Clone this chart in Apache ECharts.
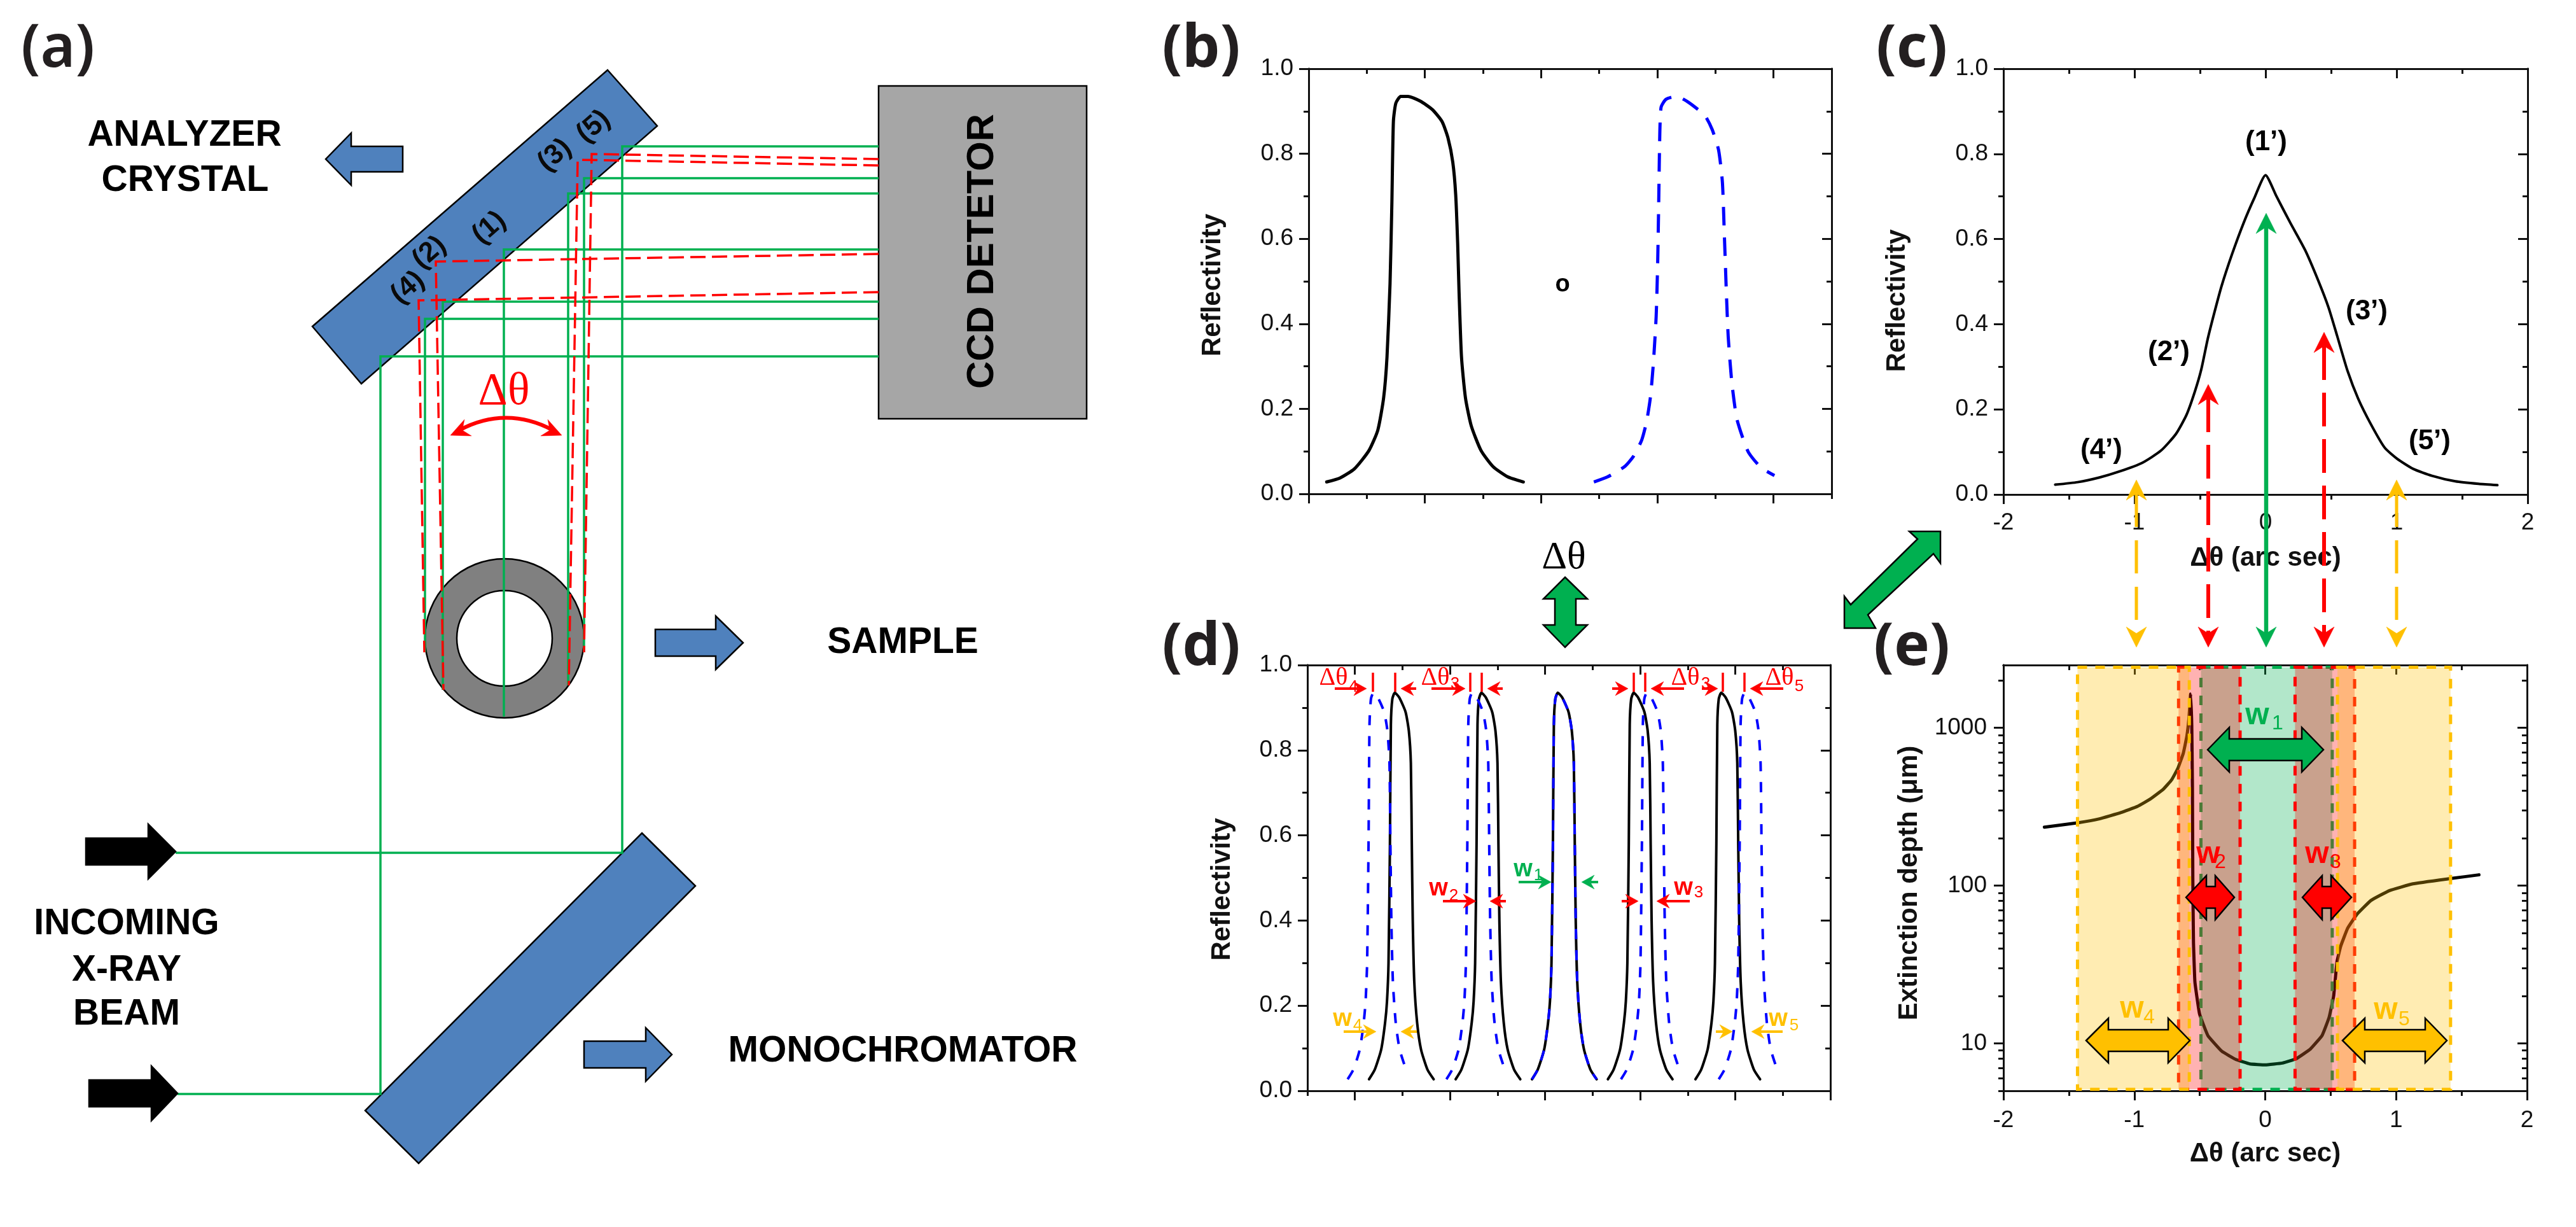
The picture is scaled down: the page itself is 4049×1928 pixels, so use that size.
<!DOCTYPE html>
<html><head><meta charset="utf-8">
<style>html,body{margin:0;padding:0;background:#fff}#c{width:4049px;height:1928px}</style>
<script src="https://cdn.jsdelivr.net/npm/echarts@6/dist/echarts.min.js"></script>
</head><body><div id="c"></div>
<script>
// ---------- panel (b) ----------
const bBlackX=[.155,.268,.394,.519,.595,.645,.674,.70,.716,.729,.75,.792,.854,.959,1.064,1.147,1.198,1.24,1.265,1.282,1.294,1.315,1.349,1.399,1.483,1.587,1.713,1.847];
const bBlackY=[.028,.037,.059,.102,.15,.226,.322,.494,.685,.876,.919,.935,.935,.924,.904,.876,.838,.78,.704,.589,.475,.322,.226,.16,.102,.064,.04,.028];
const bBlueX=[2.454,2.572,2.718,2.794,2.865,2.907,2.94,2.965,2.99,3.003,3.012,3.02,3.032,3.074,3.166,3.263,3.409,3.472,3.527,3.56,3.577,3.594,3.61,3.64,3.682,3.736,3.786,3.891,4.008];
const bBlueY=[.028,.04,.064,.088,.126,.169,.226,.303,.417,.542,.685,.828,.909,.928,.935,.922,.89,.857,.809,.733,.608,.475,.37,.265,.179,.131,.097,.062,.043];
// ---------- panel (c) ----------
const cX=[-1.605,-1.434,-1.267,-1.105,-.943,-.798,-.684,-.603,-.539,-.49,-.442,-.393,-.336,-.256,-.167,-.086,0,.084,.189,.302,.4,.481,.545,.626,.707,.804,.909,1.004,1.128,1.27,1.448,1.626,1.769];
const cY=[.023,.029,.04,.055,.074,.103,.142,.187,.242,.294,.364,.424,.489,.564,.638,.696,.75,.70,.638,.574,.504,.439,.374,.29,.225,.165,.11,.084,.06,.044,.031,.025,.022];
// ---------- panel (d) ----------
const dY=[.027,.05,.097,.16,.21,.3,.58,.86,.92,.935,.924,.89,.845,.77,.58,.4,.256,.16,.097,.05,.027];
const dBlack1X=[.148,.209,.276,.317,.337,.353,.368,.378,.393,.419,.465,.532,.567,.588,.598,.608,.624,.654,.695,.762,.828];
const dBlack2X=[1.059,1.12,1.187,1.228,1.248,1.264,1.279,1.289,1.304,1.33,1.376,1.443,1.478,1.499,1.509,1.519,1.535,1.565,1.606,1.673,1.739];
const dBlack3X=[1.862,1.923,1.99,2.031,2.051,2.067,2.082,2.092,2.107,2.133,2.179,2.246,2.281,2.302,2.312,2.322,2.338,2.368,2.409,2.476,2.542];
const dBlack4X=[2.66,2.721,2.788,2.829,2.849,2.865,2.88,2.89,2.905,2.931,2.977,3.044,3.079,3.1,3.11,3.12,3.136,3.166,3.207,3.274,3.34];
const dBlack5X=[3.581,3.642,3.709,3.75,3.77,3.786,3.801,3.811,3.826,3.852,3.898,3.965,4.0,4.021,4.031,4.041,4.057,4.087,4.128,4.195,4.261];
const dBlue1X=[-.077,-.016,.051,.092,.112,.128,.143,.153,.168,.194,.24,.307,.342,.363,.373,.383,.399,.429,.47,.537];
const dBlue2X=[.962,1.023,1.09,1.131,1.151,1.167,1.182,1.192,1.207,1.233,1.279,1.346,1.381,1.402,1.412,1.422,1.438,1.468,1.509,1.576];
const dBlue3X=[1.862,1.923,1.99,2.031,2.051,2.067,2.082,2.092,2.107,2.133,2.179,2.246,2.281,2.302,2.312,2.322,2.338,2.368,2.409,2.476,2.542];
const dBlue4X=[2.798,2.859,2.926,2.967,2.987,3.003,3.018,3.028,3.043,3.069,3.115,3.182,3.217,3.238,3.248,3.258,3.274,3.304,3.345,3.412];
const dBlue5X=[3.826,3.887,3.954,3.995,4.015,4.031,4.046,4.056,4.071,4.097,4.143,4.21,4.245,4.266,4.276,4.286,4.302,4.332,4.373,4.44];
// ---------- panel (e) ----------
const eX=[-1.687,-1.428,-1.266,-1.104,-.975,-.877,-.78,-.715,-.667,-.626,-.599,-.582,-.57,-.561,-.556,-.553,-.548,-.537,-.502,-.438,-.331,-.224,-.117,0,.132,.238,.345,.434,.488,.523,.548,.577,.63,.701,.808,.95,1.128,1.413,1.633];
const eY=[234.6,250.4,265,290,318,354,407,468,554,689,882,1167,1640,1030,420,111,43.8,24.5,15.4,11.2,8.9,7.9,7.4,7.3,7.5,8,9.2,11.2,14.6,20,32.8,41.3,53.7,65.8,80.5,93,102.6,110.7,117];
const bandsYellow=[[-1.434,-.58],[.552,1.416]];
const bandsRed=[[-.662,-.192],[.228,.683]];
const bandsGreen=[[-.491,.512]];
const eBandY=[5.1,2420];
// ---------- tick lists ----------
const reflMajor=[0,.2,.4,.6,.8,1];
const reflMinor=[.1,.3,.5,.7,.9];
const bMajorX=[0,1,2,3,4];
const bMinorX=[.5,1.5,2.5,3.5,4.5];
const dMajorX=[0,1,2,3,4,5];
const dMinorX=[-.5,.5,1.5,2.5,3.5,4.5];
const arcMajor=[-2,-1,0,1,2];
const arcMinor=[-1.5,-.5,.5,1.5];
const depthMajor=[10,100,1000];
const depthMinor=[5,6,7,8,9,20,30,40,50,60,70,80,90,200,300,400,500,600,700,800,900,2000];

const SANS='"Liberation Sans"',SERIF='"Liberation Serif"';
const GREEN='#00b050',RED='#ff0000',YEL='#ffc000',BLUE='#4f81bd',INK='#000000',LINEBLUE='#0000ff';

const grid=[],xAxis=[],yAxis=[];
function addAxes(list,g,type,posA,posB,min,max,major,minor,o){
  const mk=(pos,vals,opt)=>{
    const a={gridIndex:g,type:type,position:pos,min:min,max:max,
      axisLine:{show:true,onZero:false,lineStyle:{color:'#111',width:3}},
      splitLine:{show:false},
      axisTick:{show:true,customValues:vals,length:opt.len,inside:!!opt.inside,lineStyle:{color:'#111',width:3}},
      axisLabel:opt.labels?{show:true,customValues:vals,fontFamily:SANS,fontSize:37,color:'#111',margin:o.margin,formatter:o.fmt,showMinLabel:true,showMaxLabel:true}:{show:false}};
    if(opt.labels&&o.name){a.name=o.name;a.nameLocation='middle';a.nameGap=o.nameGap;a.nameTextStyle={fontFamily:SANS,fontWeight:'bold',fontSize:42,color:'#111',padding:o.namePad||0};}
    return a;
  };
  const first=list.length;
  list.push(mk(posA,major,{len:15,labels:o.labels}));
  list.push(mk(posA,minor,{len:8}));
  list.push(mk(posB,major,{len:15,inside:true}));
  list.push(mk(posB,minor,{len:8,inside:true}));
  return first;
}
const f1=v=>v.toFixed(1);
function panel(rect,xMin,xMax,xMaj,xMin2,yType,yMin,yMax,yMaj,yMin2,xo,yo){
  const g=grid.length;
  grid.push({left:rect[0],top:rect[1],width:rect[2],height:rect[3],containLabel:false,show:false});
  const xi=addAxes(xAxis,g,'value','bottom','top',xMin,xMax,xMaj,xMin2,xo);
  const yi=addAxes(yAxis,g,yType,'left','right',yMin,yMax,yMaj,yMin2,yo);
  return {xi,yi};
}
const pb=panel([2057,108,822,668],0,4.5,bMajorX,bMinorX,'value',0,1,reflMajor,reflMinor,{labels:false},{labels:true,margin:24,fmt:f1,name:'Reflectivity',nameGap:130,namePad:[0,12,0,0]});
const pc=panel([3149,108,824,669],-2,2,arcMajor,arcMinor,'value',0,1,reflMajor,reflMinor,{labels:true,margin:26,fmt:v=>String(v),name:'Δθ (arc sec)',nameGap:79},{labels:true,margin:24,fmt:f1,name:'Reflectivity',nameGap:146,namePad:[0,60,0,0]});
const pd=panel([2055,1045,822,669],-.5,5,dMajorX,dMinorX,'value',0,1,reflMajor,reflMinor,{labels:false},{labels:true,margin:24,fmt:f1,name:'Reflectivity',nameGap:113,namePad:[0,36,0,0]});
const pe=panel([3149,1045,823,669],-2,2,arcMajor,arcMinor,'log',5,2500,depthMajor,depthMinor,{labels:true,margin:28,fmt:v=>String(v),name:'Δθ (arc sec)',nameGap:78},{labels:true,margin:26,fmt:v=>String(Math.round(v)),name:'Extinction depth (μm)',nameGap:127,namePad:[0,16,0,0]});

const zip=(xs,ys)=>xs.map((x,i)=>[x,ys[i]]);
function curve(p,xs,ys,color,w,dash,z){
  return {type:'line',xAxisIndex:p.xi,yAxisIndex:p.yi,data:zip(xs,ys),showSymbol:false,symbol:'none',smooth:0.2,clip:true,animation:false,silent:true,z:z||3,
    lineStyle:{color:color,width:w,type:dash||'solid',cap:dash?'butt':'round',join:'round'}};
}
const dDash=[16,17];
const series=[
  curve(pb,bBlackX,bBlackY,INK,5),
  curve(pb,bBlueX,bBlueY,LINEBLUE,5,[29,19]),
  curve(pc,cX,cY,INK,4),
  curve(pd,dBlack1X,dY,INK,4),curve(pd,dBlack2X,dY,INK,4),curve(pd,dBlack3X,dY,INK,4),curve(pd,dBlack4X,dY,INK,4),curve(pd,dBlack5X,dY,INK,4),
  curve(pd,dBlue1X,dY,LINEBLUE,4,dDash,4),curve(pd,dBlue2X,dY,LINEBLUE,4,dDash,4),curve(pd,dBlue3X,dY,LINEBLUE,4,dDash,4),curve(pd,dBlue4X,dY,LINEBLUE,4,dDash,4),curve(pd,dBlue5X,dY,LINEBLUE,4,dDash,4),
  Object.assign(curve(pe,eX,eY,INK,5),{smooth:0.1})
];
function bandSeries(bands,color,z){
  return {type:'custom',xAxisIndex:pe.xi,yAxisIndex:pe.yi,silent:true,animation:false,z:z,clip:true,
    data:bands.map(b=>[b[0],eBandY[0],b[1],eBandY[1]]),
    encode:{x:[0,2],y:[1,3]},
    renderItem:(params,api)=>{
      const a=api.coord([api.value(0),api.value(1)]),b=api.coord([api.value(2),api.value(3)]);
      return {type:'rect',shape:{x:a[0],y:b[1],width:b[0]-a[0],height:a[1]-b[1]},
        style:{fill:color,stroke:color.replace(/,[^,]*\)$/,',1)'),lineWidth:5,lineDash:[15,13]}};
    }};
}
series.push(bandSeries(bandsGreen,'rgba(0,176,80,0.3)',5));
series.push(bandSeries(bandsRed,'rgba(255,0,0,0.3)',6));
series.push(bandSeries(bandsYellow,'rgba(255,192,0,0.3)',7));

// ---------- schematic drawing and annotations (not data marks) ----------
const G=[];const Z=50;
const poly=(pts,fill,stroke,lw)=>G.push({type:'polygon',z:Z,silent:true,shape:{points:pts},style:{fill:fill,stroke:stroke||'#000',lineWidth:lw==null?2.5:lw,lineJoin:'miter'}});
const pl=(pts,color,lw,dash)=>G.push({type:'polyline',z:Z,silent:true,shape:{points:pts},style:{stroke:color,lineWidth:lw,fill:null,lineDash:dash||null,lineCap:'butt'}});
const tx=(x,y,s,o)=>{o=o||{};G.push({type:'text',z:Z+2,silent:true,x:x,y:y,rotation:o.rot||0,style:{text:s,x:0,y:0,fill:o.color||'#000',textAlign:'center',textVerticalAlign:'middle',font:(o.weight||'bold')+' '+(o.size||57)+'px '+(o.fam||SANS)}});};
function head(tip,from,len,hw,color){
  const dx=tip[0]-from[0],dy=tip[1]-from[1],d=Math.hypot(dx,dy),ux=dx/d,uy=dy/d;
  poly([tip,[tip[0]-ux*len-uy*hw,tip[1]-uy*len+ux*hw],[tip[0]-ux*len*.68,tip[1]-uy*len*.68],[tip[0]-ux*len+uy*hw,tip[1]-uy*len-ux*hw]],color,color,.5);
}
function arrow(from,to,color,lw,len,hw,dash){
  const dx=to[0]-from[0],dy=to[1]-from[1],d=Math.hypot(dx,dy);
  pl([from,[to[0]-dx/d*len*.7,to[1]-dy/d*len*.7]],color,lw,dash);
  head(to,from,len,hw,color);
}
function blockR(tail,base,tip,yc,b,h,fill){
  poly([[tail,yc-b],[base,yc-b],[base,yc-h],[tip,yc],[base,yc+h],[base,yc+b],[tail,yc+b]],fill,'#000',2.5);
}
function dbl(l,lb,rb,r,yc,b,h,fill){
  poly([[l,yc],[lb,yc-h],[lb,yc-b],[rb,yc-b],[rb,yc-h],[r,yc],[rb,yc+h],[rb,yc+b],[lb,yc+b],[lb,yc+h]],fill,'#000',2.5);
}
function wl(x,y,sx,sy,n,color,size,ssize){
  tx(x,y,'w',{color:color,size:size});
  tx(sx,sy,n,{color:color,size:ssize,weight:'normal'});
}
function dl(x,y,sx,sy,n){
  tx(x,y,'Δθ',{color:RED,size:40,weight:'normal',fam:SERIF});
  tx(sx,sy,n,{color:RED,size:26,weight:'normal'});
}
// panel letters
const lf='"Noto Sans"';
tx(91,78,'(a)',{size:94,weight:'600',fam:lf,color:'#231f20'});
tx(1888,78,'(b)',{size:94,fam:lf,color:'#231f20'});
tx(3005,78,'(c)',{size:94,fam:lf,color:'#231f20'});
tx(1888,1018,'(d)',{size:94,fam:lf,color:'#231f20'});
tx(3005,1018,'(e)',{size:94,fam:lf,color:'#231f20'});
// panel (a)
poly([[955,110],[1033,198],[568,603],[491,513]],BLUE);
poly([[1381,135],[1708,135],[1708,658],[1381,658]],'#a6a6a6');
G.push({type:'circle',z:Z,silent:true,shape:{cx:793,cy:1003,r:125},style:{fill:'#808080',stroke:'#000',lineWidth:2.5}});
G.push({type:'circle',z:Z,silent:true,shape:{cx:793,cy:1003,r:75},style:{fill:'#fff',stroke:'#000',lineWidth:2.5}});
poly([[1009,1309],[1093,1392],[658,1828],[574,1745]],BLUE);
const gw=3.5;
pl([[1381,230],[978,230],[978,1340],[276,1340]],GREEN,gw);
pl([[1381,560],[598,560],[598,1719],[279,1719]],GREEN,gw);
pl([[1381,501],[668,501],[668,1025]],GREEN,gw);
pl([[1381,474],[696,474],[696,1084]],GREEN,gw);
pl([[1381,392],[792,392],[792,1126]],GREEN,gw);
pl([[1381,304],[893,304],[893,1077]],GREEN,gw);
pl([[1381,280],[918,280],[918,1025]],GREEN,gw);
const rd=[24,10];
pl([[1381,459],[658,472],[667,1025]],RED,3.5,rd);
pl([[1381,399],[685,411],[697,1084]],RED,3.5,rd);
pl([[1381,260],[908,251],[894,1077]],RED,3.5,rd);
pl([[1381,250],[930,242],[918,1025]],RED,3.5,rd);
tx(792,616,'Δθ',{color:RED,size:72,weight:'normal',fam:SERIF});
G.push({type:'bezierCurve',z:Z,silent:true,shape:{x1:722,y1:676,x2:869,y2:676,cpx1:770,cpy1:650,cpx2:821,cpy2:650},style:{stroke:RED,lineWidth:6,fill:null}});
head([708,684],[745,668],30,14,RED);
head([883,684],[846,668],30,14,RED);
blockR(633,552,512,250,20,41,BLUE);
tx(290,213,'ANALYZER',{size:57});tx(291,284,'CRYSTAL',{size:57});
const crysRot=41*Math.PI/180;
[[641,452,'(4)'],[675,397,'(2)'],[769,358,'(1)'],[872,244,'(3)'],[933,199,'(5)']].forEach(a=>tx(a[0],a[1],a[2],{size:44,rot:crysRot,color:'#0a0a0a'}));
tx(1544,395,'CCD DETETOR',{size:60,rot:Math.PI/2});
blockR(1030,1125,1168,1010,21,42,BLUE);
tx(1419,1010,'SAMPLE',{size:57});
blockR(135,233,276,1338,21,43,'#000');
blockR(140,238,279,1718,21,43,'#000');
tx(199,1452,'INCOMING',{size:57});tx(199,1525,'X-RAY',{size:57});tx(199,1594,'BEAM',{size:57});
blockR(918,1015,1056,1657,21,42,BLUE);
tx(1419,1652,'MONOCHROMATOR',{size:57});
// links between panels
tx(2458,877,'Δθ',{size:62,weight:'normal',fam:SERIF});
poly([[2460,907],[2495,941],[2477,941],[2477,982],[2495,982],[2460,1017],[2426,982],[2444,982],[2444,941],[2426,941]],GREEN);
poly([[3050,835],[3050,885],[3039,870],[2936,966],[2948,987],[2899,987],[2899,937],[2909,950],[3014,847],[3001,835]],GREEN);
// panel (b), (c) notes
tx(2456,448,'o',{size:38});
tx(3562,224,'(1’)',{size:44});tx(3409,554,'(2’)',{size:44});tx(3720,490,'(3’)',{size:44});tx(3303,708,'(4’)',{size:44});tx(3819,694,'(5’)',{size:44});
// vertical guides c -> e
function guide(x,top,color,dash,lw){
  pl([[x,top+22],[x,1000]],color,lw,dash);
  head([x,top],[x,top+40],32,16,color);
  head([x,1017],[x,980],32,16,color);
}
guide(3358,754,YEL,[52,21],5);guide(3767,754,YEL,[52,21],5);
guide(3471,604,RED,[53,20],6);guide(3653,522,RED,[53,20],6);
guide(3562,335,GREEN,null,6.5);
// panel (d) notes
[2158,2193,2311,2329,2568,2586,2708,2742].forEach(x=>pl([[x,1057],[x,1087]],RED,3.5));
[[2098,2148],[2226,2202],[2250,2303],[2362,2338],[2534,2559],[2647,2595],[2675,2700],[2803,2751]].forEach(a=>arrow([a[0],1082],[a[1],1082],RED,4,20,11));
dl(2096,1065,2127,1080,'4');dl(2256,1065,2287,1075,'3');dl(2649,1065,2681,1075,'3');dl(2797,1065,2828,1079,'5');
wl(2394,1367,2418,1376,'1',GREEN,38,26);
arrow([2387,1386],[2438,1386],GREEN,4,20,11);arrow([2512,1386],[2486,1386],GREEN,4,20,11);
wl(2261,1397,2285,1408,'2',RED,38,26);
arrow([2268,1416],[2320,1416],RED,4,20,11);arrow([2367,1416],[2342,1416],RED,4,20,11);
wl(2646,1396,2670,1403,'3',RED,38,26);
arrow([2549,1416],[2575,1416],RED,4,20,11);arrow([2656,1416],[2604,1416],RED,4,20,11);
wl(2110,1602,2134,1612,'4',YEL,38,26);
arrow([2112,1621],[2163,1621],YEL,4,20,11);arrow([2227,1621],[2202,1621],YEL,4,20,11);
wl(2795,1602,2820,1612,'5',YEL,38,26);
arrow([2697,1621],[2723,1621],YEL,4,20,11);arrow([2802,1621],[2753,1621],YEL,4,20,11);
// panel (e) notes
dbl(3470,3504,3618,3652,1178,17,35,GREEN);
wl(3548,1125,3580,1137,'1',GREEN,48,32);
poly([[3436,1410],[3468,1376],[3468,1393],[3482,1393],[3482,1376],[3512,1410],[3482,1445],[3482,1427],[3468,1427],[3468,1445]],RED);
poly([[3619,1410],[3650,1376],[3650,1393],[3664,1393],[3664,1376],[3696,1410],[3664,1445],[3664,1427],[3650,1427],[3650,1445]],RED);
wl(3471,1343,3490,1355,'2',RED,48,32);
wl(3642,1343,3671,1355,'3',RED,48,32);
dbl(3279,3314,3408,3442,1635,17,35,YEL);
dbl(3682,3717,3812,3846,1635,17,35,YEL);
wl(3351,1586,3378,1599,'4',YEL,48,32);
wl(3750,1588,3779,1602,'5',YEL,48,32);

const chart=echarts.init(document.getElementById('c'),null,{renderer:'canvas',width:4049,height:1928});
chart.setOption({animation:false,backgroundColor:'#fff',grid,xAxis,yAxis,series,graphic:{elements:G}});
</script>
</body></html>
